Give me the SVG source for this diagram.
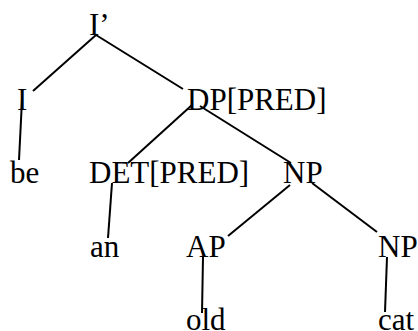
<svg xmlns="http://www.w3.org/2000/svg" width="418" height="331" viewBox="0 0 418 331">
  <style>
    .lbl { font-family: 'Liberation Serif', 'Times New Roman', Times, serif; font-size: 31px; fill: #000; }
    .edge { stroke: #000; stroke-width: 2; fill: none; }
  </style>
  <rect width="418" height="331" fill="#fff"/>

  <!-- tree branches -->
  <g id="connectors">
    <line class="edge" x1="96" y1="35" x2="33" y2="91"/>
    <line class="edge" x1="96" y1="35" x2="183" y2="89"/>
    <line class="edge" x1="22" y1="100" x2="19" y2="160"/>
    <line class="edge" x1="192" y1="105" x2="128" y2="163"/>
    <line class="edge" x1="200" y1="106" x2="291" y2="163"/>
    <line class="edge" x1="112" y1="183" x2="108" y2="238"/>
    <line class="edge" x1="290" y1="185" x2="228" y2="236"/>
    <line class="edge" x1="312" y1="183" x2="377" y2="232"/>
    <line class="edge" x1="203" y1="257" x2="202" y2="313"/>
    <line class="edge" x1="387" y1="257" x2="385" y2="312"/>
  </g>

  <!-- tree nodes -->
  <g class="lbl" font-family="Liberation Serif, serif">
    <g id="n-ibar"><text x="89" y="35">I’</text></g>
    <g id="n-i"><text x="17" y="110">I</text></g>
    <g id="n-dp"><text x="187" y="110">DP[PRED]</text></g>
    <g id="n-be"><text x="10" y="183">be</text></g>
    <g id="n-det"><text x="89" y="183">DET[PRED]</text></g>
    <g id="n-np1"><text x="283" y="183">NP</text></g>
    <g id="n-an"><text x="90" y="257">an</text></g>
    <g id="n-ap"><text x="186" y="257">AP</text></g>
    <g id="n-np2"><text x="378" y="257">NP</text></g>
    <g id="n-old"><text x="186" y="330">old</text></g>
    <g id="n-cat"><text x="378" y="330">cat</text></g>
  </g>
</svg>
